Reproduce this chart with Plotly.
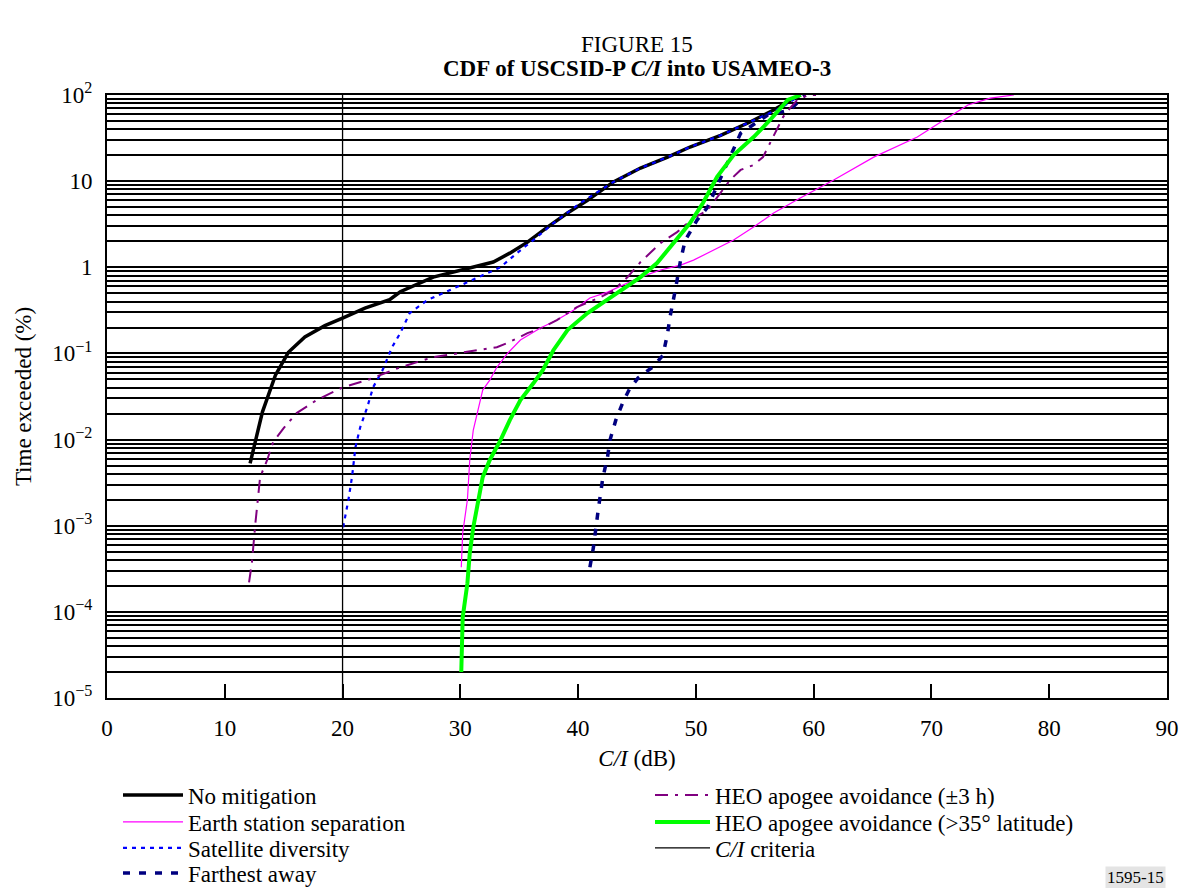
import plotly.graph_objects as go

# ---- data: C/I (dB) vs percentage of time exceeded ----
no_mit_x = [12.15, 13.2, 14.3, 15.4, 16.8, 18.5, 20.0, 21.9, 24.0, 24.9, 27.7, 30.6, 32.8, 34.2,
            35.7, 37.4, 39.1, 40.8, 43.0, 45.3, 47.6, 49.5, 52.1, 54.6, 56.6, 58.0, 58.9]
no_mit_y = [0.0053, 0.021, 0.056, 0.103, 0.155, 0.21, 0.257, 0.336, 0.42, 0.52, 0.77, 0.98, 1.15, 1.46,
            1.96, 2.93, 4.26, 6.0, 9.8, 14.2, 19, 24.9, 34, 48.6, 67, 87, 100]

es_sep_x = [30.08, 30.2, 30.6, 30.8, 31.1, 31.5, 31.9, 32.5, 33.1, 34.0, 35.1, 36.8, 38.2, 39.6,
            41.0, 42.5, 44.2, 45.3, 47.0, 48.7, 49.8, 51.5, 53.2, 54.9, 56.6, 58.9, 61.7, 65.1,
            68.8, 70.8, 73.1, 75.0, 77.0]
es_sep_y = [3.3e-4, 8.2e-4, 2.0e-3, 5.8e-3, 0.0129, 0.0219, 0.0375, 0.049, 0.069, 0.1, 0.143, 0.197,
            0.244, 0.318, 0.44, 0.515, 0.655, 0.77, 0.93, 1.06, 1.21, 1.58, 2.07, 2.93, 4.26, 6.4,
            10.3, 19, 32.5, 48.6, 76.5, 92, 100]

sat_div_x = [20.05, 20.5, 20.8, 21.1, 21.5, 22.1, 22.6, 23.4, 24.2, 24.9, 25.7, 27.2, 29.1, 31.9,
             33.4, 34.8, 36.2, 37.9, 40.2, 43.0, 45.3, 47.6, 49.5, 52.1, 54.9, 56.1, 57.2, 58.9]
sat_div_y = [9.6e-4, 2.0e-3, 3.66e-3, 8.2e-3, 0.0139, 0.0238, 0.0406, 0.064, 0.118, 0.172, 0.294,
             0.416, 0.543, 0.81, 1.0, 1.46, 2.07, 3.26, 5.57, 9.8, 14.2, 19, 24.9, 34, 51, 61,
             70.6, 100]

far_x = [41.0, 41.3, 41.7, 42.1, 42.5, 42.7, 43.2, 43.8, 44.4, 45.1, 46.3, 47.2, 47.6, 47.8, 48.3,
         48.7, 49.1, 50.1, 51.0, 52.9, 53.8, 56.1, 58.0, 59.1, 59.3]
far_y = [3.3e-4, 5.6e-4, 1.5e-3, 3.6e-3, 6.3e-3, 9.8e-3, 0.0168, 0.027, 0.0395, 0.052, 0.069, 0.095,
         0.172, 0.264, 0.59, 1.21, 2.07, 3.53, 5.0, 19, 36, 58.6, 67, 95, 100]

heo3h_x = [12.06, 12.3, 12.6, 13.0, 13.6, 14.1, 15.0, 16.1, 17.8, 20.05, 22.1, 24.9, 27.7, 30.6,
           33.1, 34.0, 35.7, 37.0, 38.2, 39.9, 41.9, 43.0, 44.2, 45.3, 47.0, 48.4, 49.8, 51.0,
           52.1, 52.9, 53.8, 54.9, 55.7, 56.3, 56.9, 57.4, 58.0, 58.6, 59.5, 60.2]
heo3h_y = [2.2e-4, 3.7e-4, 1.07e-3, 3.66e-3, 5.8e-3, 9.3e-3, 0.0136, 0.0203, 0.0287, 0.0406, 0.049,
           0.069, 0.0906, 0.104, 0.118, 0.132, 0.172, 0.2, 0.244, 0.345, 0.45, 0.54, 0.77, 1.15,
           1.91, 2.56, 3.73, 4.6, 7.3, 10.3, 13.5, 15.4, 19, 27.7, 39, 55.5, 70.6, 87.5, 100, 100]

heo35_x = [30.08, 30.2, 30.6, 30.8, 31.1, 31.5, 31.9, 32.5, 33.4, 34.2, 35.1, 36.2, 37.0, 37.9,
           39.1, 40.8, 43.0, 45.3, 46.7, 48.1, 49.5, 50.6, 51.8, 53.2, 54.9, 56.3, 57.8, 58.9]
heo35_y = [2.0e-5, 8.6e-5, 2.15e-4, 4.8e-4, 9.6e-4, 2.0e-3, 3.66e-3, 5.8e-3, 9.8e-3, 0.0168, 0.0287,
           0.045, 0.064, 0.109, 0.187, 0.294, 0.475, 0.77, 1.12, 1.91, 3.26, 5.57, 11.2, 20.1,
           32.5, 51.3, 87.5, 100]

ci_criteria_db = 20
y_min, y_max = 1e-5, 100

x_ticks = list(range(0, 100, 10))
decade_exps = [-5, -4, -3, -2, -1, 0, 1, 2]
decade_labels = {-5: "10<sup>\u22125</sup>", -4: "10<sup>\u22124</sup>", -3: "10<sup>\u22123</sup>",
                 -2: "10<sup>\u22122</sup>", -1: "10<sup>\u22121</sup>", 0: "1", 1: "10",
                 2: "10<sup>2</sup>"}

FONT = "Liberation Serif, Times New Roman, serif"
FS = 23

# grid values: 1..9 in every decade, labelled only at powers of ten
y_grid_vals, y_grid_text = [], []
for e in decade_exps:
    for m in range(1, 10):
        if e == 2 and m > 1:
            break
        y_grid_vals.append(m * 10.0 ** e)
        y_grid_text.append(decade_labels[e] if m == 1 else "")

# pixel helpers for the paper coordinate system
W, H = 1181, 888
plot_left, plot_right, plot_top, plot_bottom = 107, 1167, 95, 698
plot_w, plot_h = plot_right - plot_left, plot_bottom - plot_top
def px_to_paper(px):
    return (px - plot_left) / plot_w
def py_to_paper(py):
    return (plot_bottom - py) / plot_h

# each legend row is its own legend box: (left px, symbol width) and row centre px
left_col, right_col = (118, 60), (650, 55)
row_y = [795, 822, 848, 873]
legend_slots = [
    (left_col, row_y[0]), (left_col, row_y[1]), (left_col, row_y[2]), (left_col, row_y[3]),
    (right_col, row_y[0]), (right_col, row_y[1]), (right_col, row_y[2]),
]
legend_ids = ["legend"] + ["legend%d" % i for i in range(2, 8)]

series = [
    ("No mitigation", no_mit_x, no_mit_y, dict(color="black", width=3.5)),
    ("Earth station separation", es_sep_x, es_sep_y, dict(color="#ff00ff", width=1.2)),
    ("Satellite diversity", sat_div_x, sat_div_y, dict(color="#0000ff", width=2.2, dash="4px,5px")),
    ("Farthest away", far_x, far_y, dict(color="#000080", width=3.5, dash="7px,9px")),
    ("HEO apogee avoidance (\u00b13 h)", heo3h_x, heo3h_y,
     dict(color="#800080", width=2, dash="13px,7px,3px,7px")),
    ("HEO apogee avoidance (>35\u00b0 latitude)", heo35_x, heo35_y, dict(color="#00ff00", width=4)),
    ("<i>C/I</i> criteria", [ci_criteria_db, ci_criteria_db], [y_min, y_max],
     dict(color="black", width=1.3)),
]

fig = go.Figure()
legend_layouts = {}
for (name, xs, ys, line), lid, ((lx, iw), ry) in zip(series, legend_ids, legend_slots):
    fig.add_trace(go.Scatter(x=xs, y=ys, mode="lines", name=name, line=line, legend=lid,
                             showlegend=True))
    legend_layouts[lid] = dict(
        x=px_to_paper(lx), y=py_to_paper(ry), xanchor="left", yanchor="middle",
        orientation="v", itemwidth=iw, font=dict(family=FONT, size=FS),
        bgcolor="rgba(0,0,0,0)", borderwidth=0,
    )

fig.update_layout(
    width=W, height=H, showlegend=True,
    margin=dict(l=plot_left, r=W - plot_right, t=plot_top, b=H - plot_bottom, autoexpand=False),
    paper_bgcolor="white", plot_bgcolor="white",
    font=dict(family=FONT, size=FS, color="black"),
    annotations=[
        dict(text="FIGURE 15", x=0.5, xref="paper", y=py_to_paper(45), yref="paper",
             yanchor="middle", showarrow=False, font=dict(family=FONT, size=FS)),
        dict(text="<b>CDF of USCSID-P <i>C/I</i> into USAMEO-3</b>", x=0.5, xref="paper",
             y=py_to_paper(68), yref="paper", yanchor="middle", showarrow=False,
             font=dict(family=FONT, size=FS)),
        dict(text="1595-15", x=px_to_paper(1166), xref="paper", xanchor="right",
             y=py_to_paper(877), yref="paper", yanchor="middle", showarrow=False,
             font=dict(family=FONT, size=17), bgcolor="#e4e4e4"),
    ],
    **legend_layouts,
)

fig.update_xaxes(
    range=[0, 90], tickvals=x_ticks, ticktext=[str(v) for v in x_ticks],
    ticks="inside", ticklen=14, tickwidth=1.5, tickcolor="black",
    showgrid=False, zeroline=False,
    showline=True, linecolor="black", linewidth=2, mirror=True,
    tickfont=dict(family=FONT, size=FS), ticklabelstandoff=8,
    title=dict(text="<i>C/I</i> (dB)", font=dict(family=FONT, size=FS), standoff=10),
)
fig.update_yaxes(
    type="log", range=[-5, 2],
    tickvals=y_grid_vals, ticktext=y_grid_text, ticks="",
    showgrid=True, gridcolor="black", gridwidth=1.6,
    zeroline=False,
    showline=True, linecolor="black", linewidth=2, mirror=True,
    tickfont=dict(family=FONT, size=FS), ticklabelstandoff=8,
    title=dict(text="Time exceeded (%)", font=dict(family=FONT, size=FS), standoff=14),
)

fig.write_html("out.html")
